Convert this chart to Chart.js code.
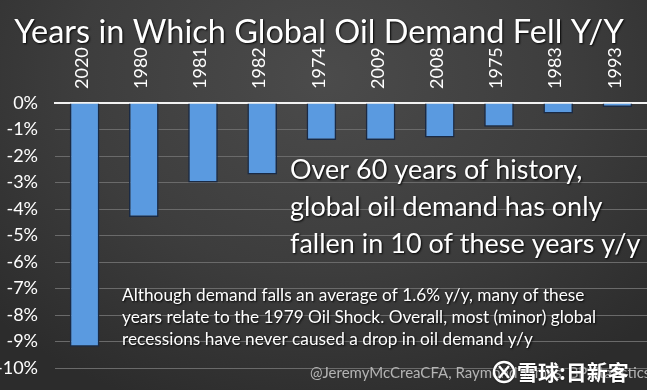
<!DOCTYPE html>
<html>
<head>
<meta charset="utf-8">
<script src="https://cdn.jsdelivr.net/npm/chart.js@4/dist/chart.umd.min.js"></script>
<style>
  html, body { margin: 0; padding: 0; }
  body {
    width: 647px; height: 390px; overflow: hidden;
    background: radial-gradient(ellipse 70% 90% at 50% 20%, #4b4b4b 0%, #3d3d3d 55%, #2c2c2c 100%);
  }
  #wrap { position: relative; width: 647px; height: 390px; }
</style>
</head>
<body>
<div id="wrap"><canvas id="oilChart" width="647" height="390"></canvas></div>
<script>
// years in which global oil demand fell, sorted by size of the drop
var years = ['2020', '1980', '1981', '1982', '1974', '2009', '2008', '1975', '1983', '1993'];
var demandChange = [-9.2, -4.3, -3.0, -2.7, -1.4, -1.4, -1.3, -0.9, -0.4, -0.15];
var yTicks = [0, -1, -2, -3, -4, -5, -6, -7, -8, -9, -10];

var titleText = 'Years in Which Global Oil Demand Fell Y/Y';
var bigNote = ['Over 60 years of history,', 'global oil demand has only', 'fallen in 10 of these years y/y'];
var smallNote = ['Although demand falls an average of 1.6% y/y, many of these',
                 'years relate to the 1979 Oil Shock. Overall, most (minor) global',
                 'recessions have never caused a drop in oil demand y/y'];
var credit = '@JeremyMcCreaCFA, Raymond James, BP Statistics';
var watermark = '雪球:日新客';

var textFont = 'Lato, "Open Sans", sans-serif';

// annotations, title and credit drawn on the canvas
var notesPlugin = {
    id: 'notes',
    afterDraw: function (chart) {
        var ctx = chart.ctx;
        ctx.save();
        ctx.fillStyle = '#ffffff';
        ctx.shadowColor = 'rgba(0,0,0,0.9)';
        ctx.shadowBlur = 2;
        ctx.shadowOffsetX = 1;
        ctx.shadowOffsetY = 1;
        ctx.textBaseline = 'alphabetic';

        ctx.textAlign = 'center';
        ctx.font = '32.5px ' + textFont;
        ctx.fillText(titleText, 319, 43);

        ctx.textAlign = 'left';
        ctx.font = '27px ' + textFont;
        bigNote.forEach(function (line, i) {
            ctx.fillText(line, 290, 179 + i * 37);
        });

        ctx.font = '17.3px ' + textFont;
        smallNote.forEach(function (line, i) {
            ctx.fillText(line, 122, 301 + i * 22);
        });

        ctx.shadowBlur = 0;
        ctx.shadowOffsetX = 0;
        ctx.shadowOffsetY = 0;
        ctx.fillStyle = '#b4b4b4';
        ctx.font = '15px ' + textFont;
        ctx.fillText(credit, 310, 378);

        ctx.fillStyle = '#ffffff';
        ctx.shadowColor = 'rgba(0,0,0,0.8)';
        ctx.shadowBlur = 2;
        ctx.font = 'bold 21px "Noto Sans CJK SC", sans-serif';
        ctx.fillText(watermark, 517, 380);
        ctx.lineWidth = 2.5;
        ctx.strokeStyle = '#ffffff';
        ctx.beginPath();
        ctx.arc(504, 372, 10, 0, Math.PI * 2);
        ctx.stroke();
        ctx.beginPath();
        ctx.moveTo(499, 366); ctx.lineTo(509, 378);
        ctx.moveTo(509, 366); ctx.lineTo(499, 378);
        ctx.stroke();
        ctx.restore();
    }
};

new Chart(document.getElementById('oilChart'), {
    type: 'bar',
    data: {
        labels: years,
        datasets: [{
            data: demandChange,
            backgroundColor: '#5a9ae0',
            borderColor: '#1a2a44',
            borderWidth: 1.5,
            barPercentage: 0.5,
            categoryPercentage: 1.0
        }]
    },
    options: {
        responsive: false,
        animation: false,
        layout: { padding: { top: 0, right: 0, bottom: 22, left: 0 } },
        plugins: {
            legend: { display: false },
            title: { display: false },
            tooltip: { enabled: false }
        },
        scales: {
            x: {
                position: 'top',
                grid: { display: false },
                border: { display: true, color: '#f2f2f2', width: 2 },
                ticks: {
                    color: '#ffffff',
                    font: { family: textFont, size: 18 },
                    minRotation: 90,
                    maxRotation: 90,
                    labelOffset: 19,
                    padding: 6
                },
                afterFit: function (scale) { scale.height = 103; }
            },
            y: {
                min: -10,
                max: 0,
                border: { display: false },
                grid: { color: '#6a6a6a', lineWidth: 1, drawTicks: true, tickLength: 17, tickColor: 'rgba(0,0,0,0)' },
                afterBuildTicks: function (scale) {
                    scale.ticks = yTicks.map(function (v) { return { value: v }; });
                },
                ticks: {
                    color: '#ffffff',
                    font: { family: textFont, size: 18 },
                    padding: 0,
                    callback: function (v) { return v + '%'; }
                },
                afterFit: function (scale) { scale.width = 55; }
            }
        }
    },
    plugins: [notesPlugin]
});
</script>
</body>
</html>
